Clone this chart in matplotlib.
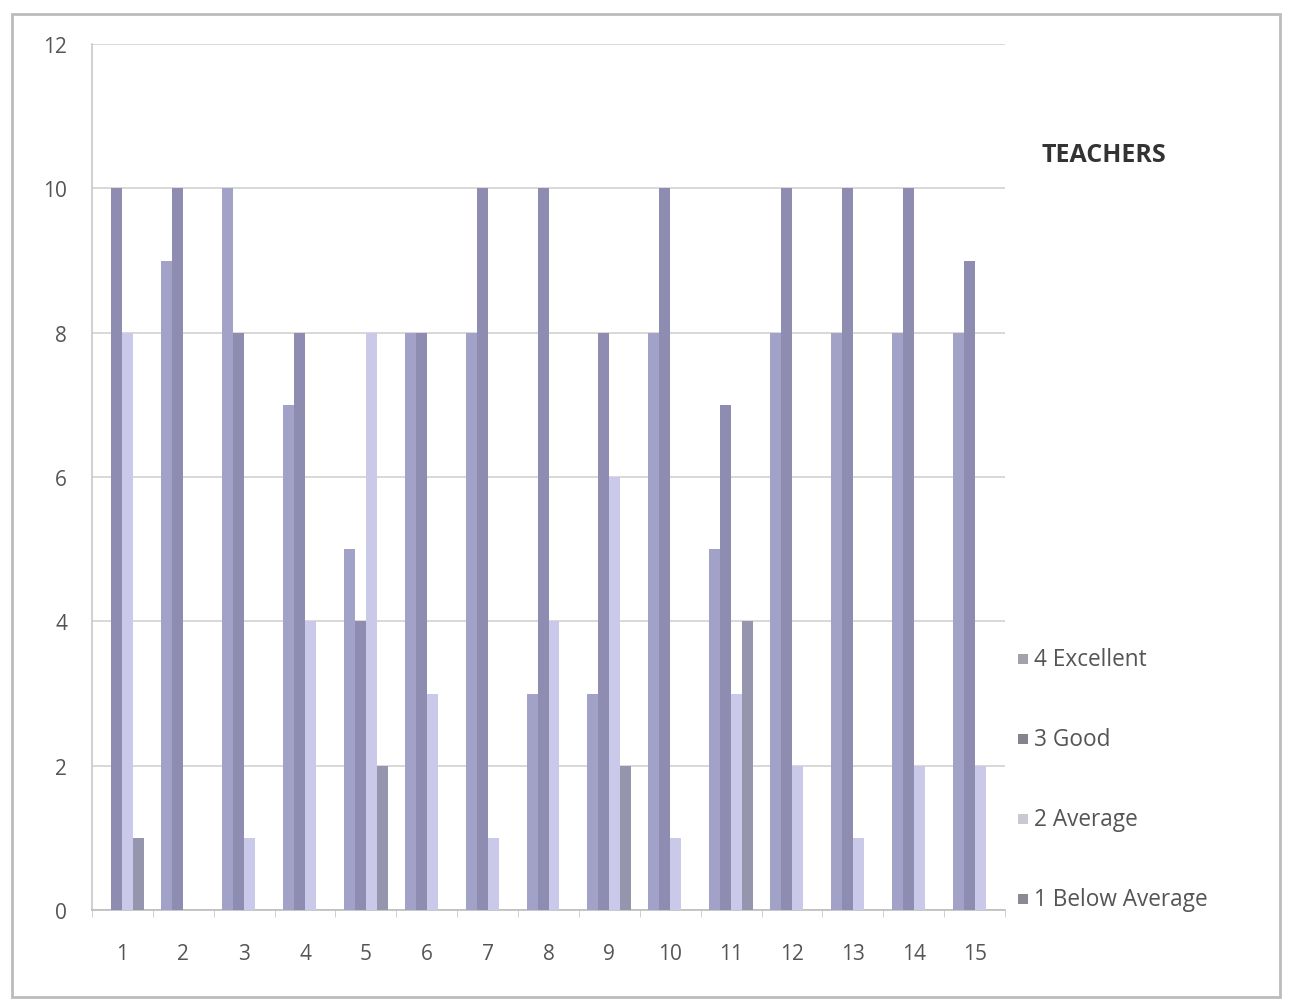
import numpy as np
import matplotlib
matplotlib.use("Agg")
import matplotlib.pyplot as plt
from matplotlib.patches import Rectangle

# survey results per question (number of teachers)
questions = [str(i) for i in range(1, 16)]
excellent = [0, 9, 10, 7, 5, 8, 8, 3, 3, 8, 5, 8, 8, 8, 8]
good      = [10, 10, 8, 8, 4, 8, 10, 10, 8, 10, 7, 10, 10, 10, 9]
average   = [8, 0, 1, 4, 8, 3, 1, 4, 6, 1, 3, 2, 1, 2, 2]
below     = [1, 0, 0, 0, 2, 0, 0, 0, 2, 0, 4, 0, 0, 0, 0]

series = [excellent, good, average, below]
labels = ["4 Excellent", "3 Good", "2 Average", "1 Below Average"]
colors = ["#a2a1c8", "#8e8db1", "#cac9ea", "#9595ad"]
legend_colors = ["#a2a2aa", "#84848c", "#c9c9d2", "#8a8a92"]

plt.rcParams['font.family'] = ['Open Sans', 'DejaVu Sans']

fig = plt.figure(figsize=(12.9, 10.04), dpi=100)
ax = fig.add_axes([92/1290, 1 - 911/1004, (1005-92)/1290, (911-45)/1004])

x = np.arange(len(questions))
w = 0.18
for i, (vals, c) in enumerate(zip(series, colors)):
    ax.bar(x + (i - 1.5) * w, vals, w, color=c, edgecolor='none', zorder=3)

ax.set_xlim(-0.5, 14.5)
ax.set_ylim(0, 12)
ax.set_yticks(range(0, 13, 2))
ax.set_xticks(x)
ax.set_xticklabels(questions)
ax.set_xticks(np.arange(-0.5, 15, 1), minor=True)
ax.tick_params(axis='x', which='major', length=0, pad=24, labelsize=15, labelcolor='#555555')
ax.tick_params(axis='x', which='minor', length=5, color='#c8c8c8', direction='out')
ax.tick_params(axis='y', length=0, pad=18, labelsize=15, labelcolor='#555555')
ax.grid(axis='y', color='#d2d2d2', linewidth=1.2, zorder=0)
for s in ['top', 'right']:
    ax.spines[s].set_visible(False)
ax.spines['left'].set_color('#c8c8c8')
ax.spines['bottom'].set_color('#bdbdbd')
ax.spines['left'].set_linewidth(1.2)
ax.spines['bottom'].set_linewidth(1.2)

fig.text(1042/1290, 1 - 155/1004, "TEACHERS", fontsize=18, fontweight='bold',
         color='#333333', va='center', ha='left')

# legend entries, stacked like the Excel legend
leg_y = [660, 740, 820, 900]
for yy, lab, c in zip(leg_y, labels, legend_colors):
    fig.patches.append(Rectangle((1018/1290, 1 - (yy + 5)/1004), 10/1290, 10/1004,
                                 transform=fig.transFigure, facecolor=c, edgecolor='none'))
    fig.text(1034/1290, 1 - yy/1004, lab, fontsize=16.3, color='#555555',
             va='center', ha='left')

# outer chart border
fig.patches.append(Rectangle((12/1290, 1 - 998/1004), (1280-12)/1290, (998-15)/1004,
                             transform=fig.transFigure, fill=False,
                             edgecolor='#bcbcbc', linewidth=2))

fig.savefig("out.png", dpi=100, facecolor='white')
